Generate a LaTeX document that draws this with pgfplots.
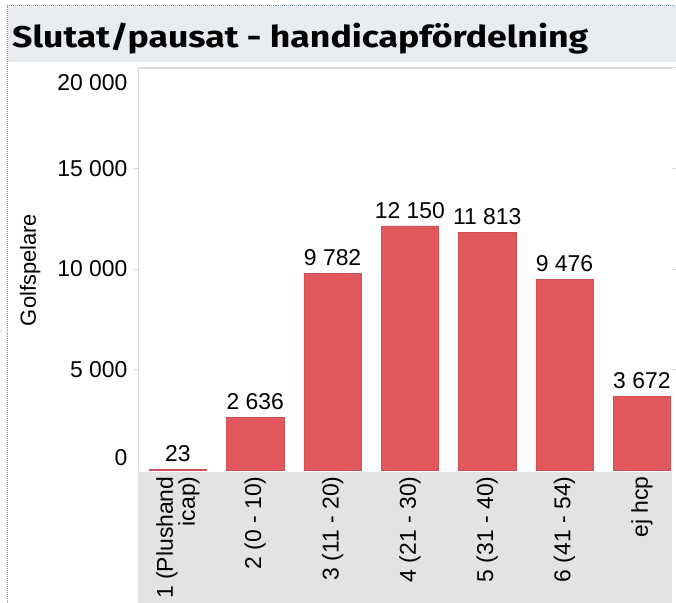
\documentclass[border=0pt]{standalone}
\usepackage{pgfplots}
\pgfplotsset{compat=1.18}
\usepackage{fontspec}
\setmainfont{Liberation Sans}
\newfontfamily\titlefont{Fira Sans}
\definecolor{barred}{RGB}{224,88,92}
\definecolor{titleband}{RGB}{232,236,240}
\definecolor{tickband}{RGB}{227,227,227}
\definecolor{dotblue}{RGB}{120,150,200}
\begin{document}
\begin{tikzpicture}
\useasboundingbox (0bp,0bp) rectangle (676bp,603bp);
\clip (0bp,0bp) rectangle (676bp,603bp);
\fill[white] (0bp,0bp) rectangle (676bp,603bp);
% title band
\fill[titleband] (8bp,541bp) rectangle (676bp,597bp);
\draw[dotblue, densely dotted, line width=1bp] (7bp,597bp) -- (676bp,597bp);
\draw[dotblue, densely dotted, line width=1bp] (7bp,0bp) -- (7bp,597bp);
\draw[gray!25] (138bp,536bp) -- (676bp,536bp);
\node[anchor=base west, inner sep=0pt] at (12bp,555.5bp) {\resizebox{576bp}{24.5bp}{\titlefont\bfseries Slutat/pausat - handicapfördelning}};
% tick label band
\fill[tickband] (138bp,0bp) rectangle (672bp,131bp);
\begin{axis}[
  at={(138bp,133bp)}, anchor=south west,
  scale only axis, width=534bp, height=402bp,
  xmin=-0.517, xmax=6.39, ymin=0, ymax=20000,
  axis line style={draw=none},
  scaled y ticks=false, scaled x ticks=false,
  xtick={0,1,2,3,4,5,6},
  xticklabels={{1 (Plushand\\icap)},{2 (0 - 10)},{3 (11 - 20)},{4 (21 - 30)},{5 (31 - 40)},{6 (41 - 54)},{ej hcp}},
  xticklabel style={rotate=90, anchor=east, align=right, font=\fontsize{23}{22}\selectfont},
  xticklabel shift=3bp,
  ytick={600,5000,10000,15000,19250},
  yticklabels={0,5 000,10 000,15 000,20 000},
  yticklabel style={font=\fontsize{23}{27}\selectfont},
  yticklabel shift=7bp,
  major tick length=0pt,
  extra y ticks={5000,10000,15000},
  extra y tick labels={},
  extra y tick style={major tick length=5bp, tick style={gray!30}, tick align=outside},
  ylabel={Golfspelare},
  ylabel style={at={(axis description cs:-0.202,0.4975)}, anchor=center, font=\fontsize{22}{26}\selectfont},
  /pgf/number format/assume math mode=true,
  /pgf/number format/1000 sep={\ },
  nodes near coords,
  nodes near coords style={font=\fontsize{23}{27}\selectfont, yshift=4bp, text=black},
  clip=false,
]
\addplot[ybar, bar width=0.74, bar shift=0pt, fill=barred, draw=barred!92!black, line width=0.4bp]
  coordinates {(0,23) (1,2636) (2,9782) (3,12150) (4,11813) (5,9476) (6,3672)};
\draw[gray!30, line width=0.8bp] (rel axis cs:0,0) -- (rel axis cs:0,1) -- (rel axis cs:1,1);
\end{axis}
\end{tikzpicture}
\end{document}
